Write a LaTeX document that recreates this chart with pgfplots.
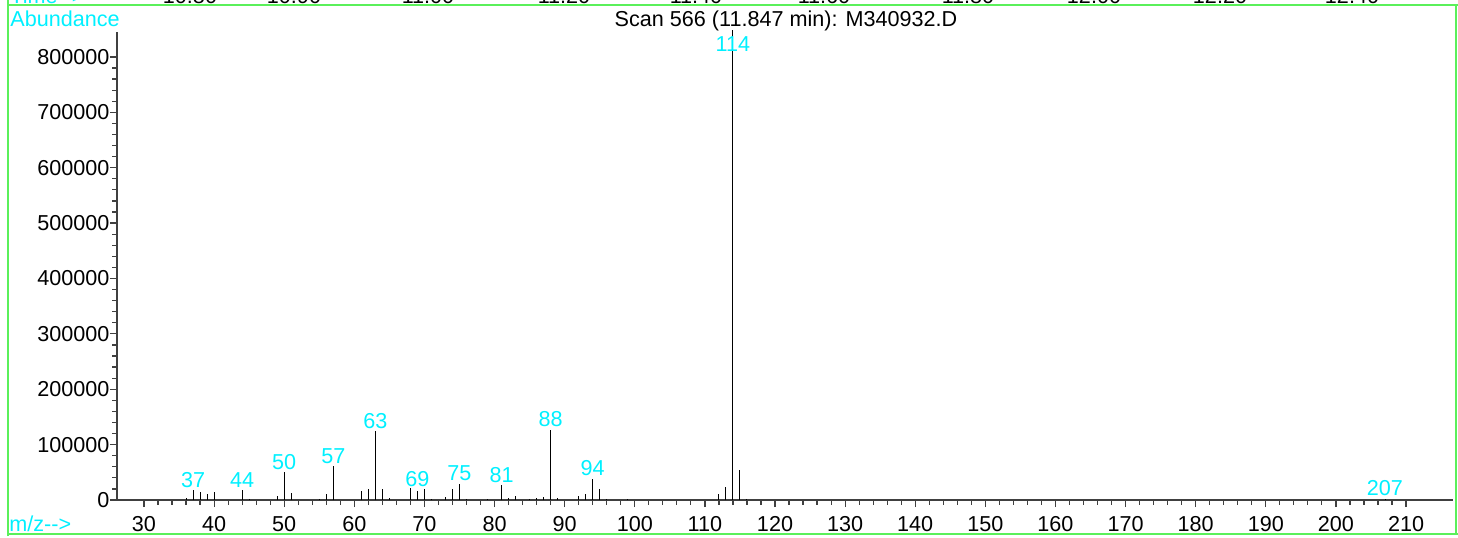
\documentclass[border=0pt]{standalone}
\usepackage{fontspec}
\setmainfont{Liberation Sans}
\usepackage{pgfplots}
\pgfplotsset{compat=1.18}
\definecolor{framegreen}{RGB}{90,240,90}
\definecolor{lblcyan}{RGB}{0,240,255}
\begin{document}
\fontsize{10.8}{13}\selectfont
\begin{tikzpicture}[x=1pt,y=1pt]
\useasboundingbox (0,0) rectangle (729,268.5);
% frame
\draw[framegreen, line width=0.9pt] (4,0.5) -- (4,268.5);
\draw[framegreen, line width=0.9pt] (4,266) -- (729,266);
\draw[framegreen, line width=0.9pt] (4,1.5) -- (729,1.5);
\draw[framegreen, line width=0.9pt] (728,1.5) -- (728,266);
% cut-off strip of the chromatogram above
\begin{scope}
\clip (0,266.6) rectangle (729,268.5);
\node[anchor=base west, inner sep=0pt, text=lblcyan] at (5,266.9) {Time-{}->};
\foreach \xx/\tt in {95/10.80, 147/10.90, 214/11.00, 282/11.20, 348/11.40, 412/11.60, 484/11.80, 547/12.00, 610/12.20, 676/12.40}
  \node[anchor=base, inner sep=0pt] at (\xx,266.9) {\tt};
\end{scope}
% title and labels
\node[anchor=base, inner sep=0pt] at (393,255.3) {Scan 566 (11.847 min): M340932.D};
\node[anchor=base west, inner sep=0pt, text=lblcyan] at (5,255.3) {Abundance};
\node[anchor=base west, inner sep=0pt, text=lblcyan] at (4.5,3) {m/z-{}->};
\begin{axis}[
  at={(58.5pt,18.5pt)}, anchor=south west,
  scale only axis, width=668pt, height=234pt,
  xmin=26.15, xmax=216.7, ymin=0, ymax=845000,
  axis lines*=left,
  axis line style={black!75, line width=0.7pt},
  tick style={black!75, line width=0.6pt},
  tick align=outside,
  major tick length=3.5pt, minor tick length=2.3pt,
  xtick={30,40,...,210}, minor x tick num=4,
  ytick={0,100000,...,800000}, minor y tick num=4,
  scaled y ticks=false,
  /pgf/number format/fixed,
  /pgf/number format/precision=0,
  /pgf/number format/1000 sep={},
  /pgf/number format/assume math mode=true,
  ticklabel style={font=\fontsize{10.8}{13}\selectfont},
  yticklabel style={inner sep=1pt, xshift=0.9pt},
  xticklabel style={yshift=-1pt},
  clip=false,
]
\addplot[ycomb, black, line width=0.5pt, mark=none] coordinates {
(36,4000) (37,18000) (38,14000) (39,10000) (40,14000)
(44,18000) (45,2000) (49,7000) (50,50000) (51,12000)
(55,2000) (56,11000) (57,61000)
(61,15500) (62,19000) (63,124000) (64,19000) (65,3000)
(68,21000) (69,15500) (70,19000) (71,2000) (73,6000) (74,19000) (75,29500) (76,2000)
(79,2000) (81,27000) (82,3000) (83,8000) (85,2000) (86,3000) (87,6000) (88,127000) (89,3000)
(92,7000) (93,10000) (94,38500) (95,20000) (96,2000) (99,2000)
(112,10000) (113,23000) (114,848000) (115,55000) (116,2000)
(207,2000)
};
\begin{scope}[every node/.style={text=lblcyan, inner sep=0pt, anchor=south, yshift=1.2pt, font=\fontsize{10.8}{13}\selectfont}]
\node at (axis cs:37,18000) {37};
\node at (axis cs:44,18000) {44};
\node at (axis cs:50,50000) {50};
\node at (axis cs:57,61000) {57};
\node at (axis cs:63,124000) {63};
\node at (axis cs:69,19000) {69};
\node at (axis cs:75,29500) {75};
\node at (axis cs:81,27000) {81};
\node at (axis cs:88,127000) {88};
\node at (axis cs:94,38500) {94};
\node at (axis cs:207,2000) {207};
\node[anchor=base, yshift=0pt] at (axis cs:114,806000) {114};
\end{scope}
\end{axis}
\end{tikzpicture}
\end{document}
